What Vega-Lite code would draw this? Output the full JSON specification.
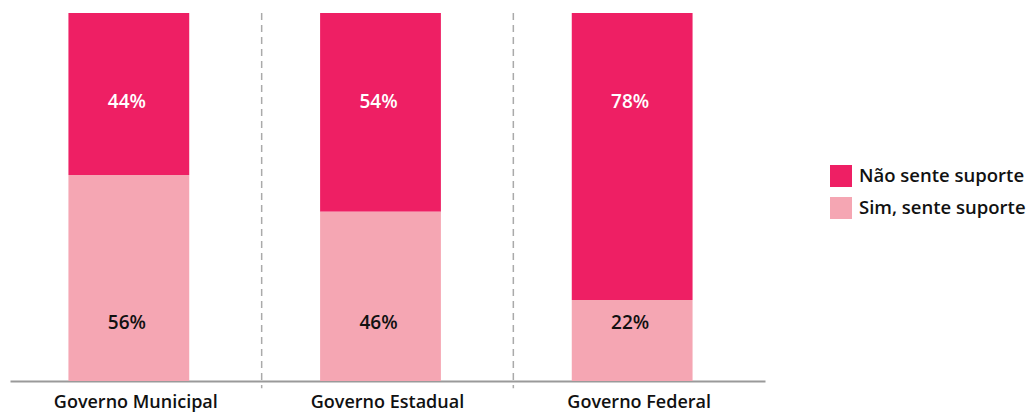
{
  "$schema": "https://vega.github.io/schema/vega-lite/v6.json",
  "width": 755,
  "height": 368,
  "autosize": "none",
  "padding": {"left": 10, "top": 13, "right": 267, "bottom": 33},
  "background": "white",
  "config": {"view": {"stroke": null}, "font": "Open Sans"},
  "data": {"values": [
    {"gov": "Governo Municipal", "resp": "Não sente suporte", "v": 0.44},
    {"gov": "Governo Municipal", "resp": "Sim, sente suporte", "v": 0.56},
    {"gov": "Governo Estadual", "resp": "Não sente suporte", "v": 0.54},
    {"gov": "Governo Estadual", "resp": "Sim, sente suporte", "v": 0.46},
    {"gov": "Governo Federal", "resp": "Não sente suporte", "v": 0.78},
    {"gov": "Governo Federal", "resp": "Sim, sente suporte", "v": 0.22}
  ]},
  "encoding": {
    "x": {"field": "gov", "type": "nominal", "sort": null,
      "scale": {"paddingInner": 0, "paddingOuter": 0},
      "axis": {"title": null, "labelAngle": 0, "ticks": false, "grid": false,
        "domainColor": "#9a9a9a", "domainWidth": 2, "labelFontSize": 18, "labelFontWeight": 600,
        "labelColor": "#111", "labelPadding": 21, "labelFont": "Open Sans", "labelBaseline": "middle", "labelOffset": 0, "labelLimit": 0}}
  },
  "layer": [
    {
      "mark": {"type": "bar", "width": {"band": 0.48}, "xOffset": -7},
      "encoding": {
        "y": {"field": "v", "type": "quantitative", "stack": "zero", "scale": {"domain": [0, 1]}, "axis": null},
        "color": {"field": "resp", "type": "nominal",
          "scale": {"domain": ["Não sente suporte", "Sim, sente suporte"], "range": ["#EE1F64", "#F5A6B3"]},
          "legend": {"title": null, "orient": "none", "legendX": 820, "legendY": 152,
            "symbolType": "square", "symbolSize": 484, "symbolStrokeWidth": 0, "symbolOpacity": 1,
            "labelFontSize": 18.5, "labelFontWeight": 600, "labelColor": "#111", "labelOffset": 7, "rowPadding": 10,
            "labelFont": "Open Sans", "labelLimit": 0}},
        "order": {"field": "resp", "sort": "descending"}
      }
    },
    {
      "transform": [{"filter": "datum.resp === 'Não sente suporte'"}],
      "mark": {"type": "text", "color": "white", "fontSize": 19, "fontWeight": 600, "baseline": "middle", "dx": -9},
      "encoding": {
        "y": {"datum": 0.758, "type": "quantitative"},
        "text": {"field": "v", "type": "quantitative", "format": ".0%"}
      }
    },
    {
      "transform": [{"filter": "datum.resp === 'Sim, sente suporte'"}],
      "mark": {"type": "text", "color": "#111", "fontSize": 19, "fontWeight": 600, "baseline": "middle", "dx": -9},
      "encoding": {
        "y": {"datum": 0.158, "type": "quantitative"},
        "text": {"field": "v", "type": "quantitative", "format": ".0%"}
      }
    },
    {
      "data": {"values": [{"gov": "Governo Municipal"}, {"gov": "Governo Estadual"}]},
      "mark": {"type": "rule", "color": "#aaaaaa", "strokeWidth": 1.5, "strokeDash": [7, 5], "clip": false},
      "encoding": {
        "x": {"field": "gov", "type": "nominal", "sort": null, "bandPosition": 1},
        "y": {"datum": 1, "type": "quantitative"},
        "y2": {"datum": -0.02}
      }
    }
  ]
}
